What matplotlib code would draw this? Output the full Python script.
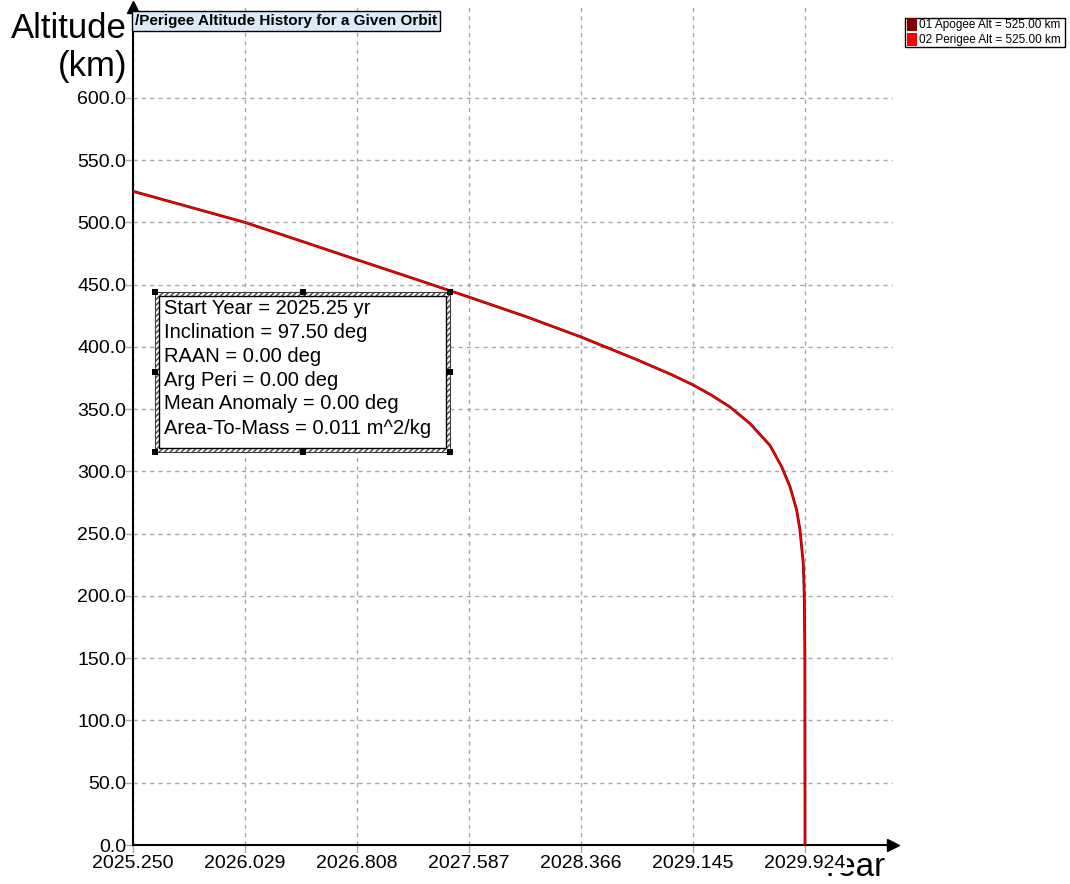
import matplotlib
matplotlib.use("Agg")
import matplotlib.pyplot as plt
from matplotlib.patches import Rectangle

plt.rcParams['font.family'] = ['Liberation Sans', 'DejaVu Sans']

# values
years = [2025.250, 2025.640, 2026.029, 2026.420, 2026.808, 2027.200, 2027.587,
         2027.980, 2028.366, 2028.760, 2029.000, 2029.145, 2029.263, 2029.402,
         2029.541, 2029.680, 2029.762, 2029.820, 2029.866, 2029.889, 2029.912,
         2029.919, 2029.923, 2029.924]
apogee_alt = [525.0, 512.5, 500.0, 485.0, 470.0, 455.0, 440.0,
              424.5, 408.0, 389.5, 377.5, 369.5, 362.0, 351.8,
              338.5, 321.0, 303.7, 287.6, 269.0, 252.9, 226.0,
              200.0, 150.0, 0.0]
perigee_alt = list(apogee_alt)

xticks = [2025.250, 2026.029, 2026.808, 2027.587, 2028.366, 2029.145, 2029.924]
yticks = [0, 50, 100, 150, 200, 250, 300, 350, 400, 450, 500, 550, 600]

info_lines = ["Start Year = 2025.25 yr",
              "Inclination = 97.50 deg",
              "RAAN = 0.00 deg",
              "Arg Peri = 0.00 deg",
              "Mean Anomaly = 0.00 deg",
              "Area-To-Mass = 0.011 m^2/kg"]
legend_labels = ["01 Apogee Alt = 525.00 km", "02 Perigee Alt = 525.00 km"]
legend_colors = ["#800000", "#ff0000"]

W, H = 1070, 884


def fx(px):
    return px / W


def fy(py):
    return 1 - py / H


fig = plt.figure(figsize=(W / 100, H / 100), dpi=100)
ax = fig.add_axes([fx(133), fy(845), (893 - 133) / W, (845 - 7) / H])

ax.plot(years, apogee_alt, color=legend_colors[0], lw=2.0, zorder=3)
ax.plot(years, perigee_alt, color=legend_colors[1], lw=1.0, zorder=4)

ax.set_xlim(2025.25, 2030.536)
ax.set_ylim(0, 673)
ax.set_xticks(xticks)
ax.set_xticklabels([f"{t:.3f}" for t in xticks], fontsize=14)
ax.set_yticks(yticks)
ax.set_yticklabels([f"{t:.1f}" for t in yticks], fontsize=14)
ax.tick_params(length=6, width=1, color='#a8a8a8', pad=1)
ax.tick_params(axis='y', pad=-1)
ax.grid(True, color='#a8a8a8', linestyle=(0, (3, 3)), lw=1)

for s in ['top', 'right']:
    ax.spines[s].set_visible(False)
for s in ['left', 'bottom']:
    ax.spines[s].set_linewidth(1.5)
    ax.spines[s].set_color('black')
ax.plot(0, 1, marker='^', color='black', ms=9, transform=ax.transAxes, clip_on=False)
ax.plot(1, 0, marker='>', color='black', ms=9, transform=ax.transAxes, clip_on=False)

# white box behind x tick labels so they cover what is under them
for lbl in ax.get_xticklabels():
    lbl.set_bbox(dict(facecolor='white', edgecolor='none', pad=1))

# axis titles
fig.text(fx(127), fy(12), "Altitude\n(km)", ha='right', va='top', fontsize=25,
         linespacing=1.2)
ax.text(fx(818), fy(883), "Year", transform=fig.transFigure, ha='left',
        va='bottom', fontsize=24, zorder=1, clip_on=False)

# chart title box
fig.text(fx(135), fy(21), "/Perigee Altitude History for a Given Orbit",
         ha='left', va='center', fontsize=11, fontweight='bold',
         bbox=dict(facecolor='#dce9f8', edgecolor='black', lw=1,
                   boxstyle='square,pad=0.2'))

# info box with hatched border and handles
x0, y0, x1, y1 = 155, 292, 450, 452
fig.patches.append(Rectangle((fx(x0), fy(y1)), fx(x1 - x0), (y1 - y0) / H,
                             transform=fig.transFigure, facecolor='white',
                             edgecolor='#404040', hatch='//////', lw=0.8, zorder=5))
fig.patches.append(Rectangle((fx(x0 + 4), fy(y1 - 4)), fx(x1 - x0 - 8), (y1 - y0 - 8) / H,
                             transform=fig.transFigure, facecolor='white',
                             edgecolor='black', lw=1, zorder=6))
for hx in [x0, (x0 + x1) / 2, x1]:
    for hy in [y0, (y0 + y1) / 2, y1]:
        if hx == (x0 + x1) / 2 and hy == (y0 + y1) / 2:
            continue
        fig.patches.append(Rectangle((fx(hx - 3), fy(hy + 3)), fx(6), 6 / H,
                                     transform=fig.transFigure, facecolor='black',
                                     edgecolor='none', zorder=7))
for i, line in enumerate(info_lines):
    fig.text(fx(164), fy(308 + 24 * i), line, ha='left', va='center',
             fontsize=14.5, zorder=8)

# legend
fig.patches.append(Rectangle((fx(905), fy(47)), fx(160), 29 / H,
                             transform=fig.transFigure, facecolor='white',
                             edgecolor='black', lw=1, zorder=5))
for i, (lab, col) in enumerate(zip(legend_labels, legend_colors)):
    yc = 25 + 15 * i
    fig.patches.append(Rectangle((fx(907), fy(yc + 6)), fx(10), 13 / H,
                                 transform=fig.transFigure, facecolor=col,
                                 edgecolor='none', zorder=6))
    fig.text(fx(919), fy(yc), lab, ha='left', va='center', fontsize=8.5, zorder=7)

fig.savefig("out.png", dpi=100)
